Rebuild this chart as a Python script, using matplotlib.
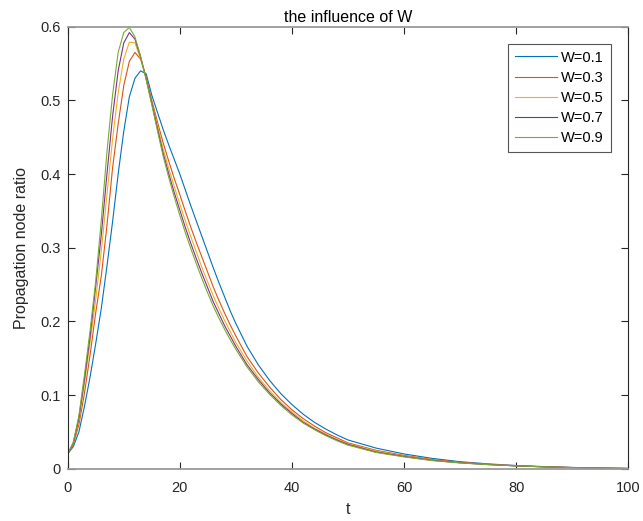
import matplotlib
matplotlib.use("Agg")
import matplotlib.pyplot as plt

plt.rcParams['font.family'] = ['Liberation Sans', 'DejaVu Sans']

t = [0, 1, 2, 3, 4, 5, 6, 7, 8, 9, 10, 11, 12, 13, 14, 15, 16, 17, 18, 19, 20,
     21, 22, 23, 24, 25, 26, 27, 28, 29, 30,
     32, 34, 36, 38, 40, 42, 44, 46, 48, 50,
     55, 60, 65, 70, 75, 80, 85, 90, 95, 100]

w01 = [0.020, 0.030, 0.050, 0.085, 0.125, 0.170, 0.218, 0.275, 0.335, 0.400, 0.458,
       0.505, 0.530, 0.540, 0.536, 0.507, 0.484, 0.461, 0.440, 0.420, 0.400,
       0.378, 0.356, 0.335, 0.314, 0.293, 0.272, 0.252, 0.233, 0.214, 0.197,
       0.166, 0.141, 0.120, 0.102, 0.087, 0.074, 0.063, 0.054, 0.046, 0.039,
       0.028, 0.020, 0.014, 0.0095, 0.0065, 0.0043, 0.0028, 0.0017, 0.0009, 0.0003]

w03 = [0.020, 0.033, 0.060, 0.103, 0.155, 0.212, 0.262, 0.330, 0.408, 0.468, 0.520,
       0.553, 0.565, 0.556, 0.532, 0.500, 0.471, 0.443, 0.418, 0.394, 0.372,
       0.349, 0.327, 0.306, 0.286, 0.266, 0.246, 0.228, 0.211, 0.195, 0.180,
       0.152, 0.130, 0.111, 0.094, 0.080, 0.068, 0.058, 0.049, 0.042, 0.035,
       0.025, 0.018, 0.0125, 0.0087, 0.0060, 0.0040, 0.0026, 0.0016, 0.0008, 0.0003]

w05 = [0.020, 0.034, 0.066, 0.116, 0.172, 0.230, 0.296, 0.372, 0.447, 0.510, 0.556,
       0.579, 0.578, 0.556, 0.530, 0.497, 0.466, 0.435, 0.408, 0.383, 0.359,
       0.336, 0.314, 0.293, 0.272, 0.253, 0.234, 0.217, 0.201, 0.186, 0.171,
       0.146, 0.124, 0.106, 0.090, 0.077, 0.065, 0.055, 0.047, 0.040, 0.034,
       0.024, 0.017, 0.0118, 0.0083, 0.0058, 0.0039, 0.0025, 0.0015, 0.0008, 0.0003]

w07 = [0.020, 0.035, 0.069, 0.122, 0.180, 0.248, 0.318, 0.400, 0.478, 0.540, 0.578,
       0.592, 0.583, 0.559, 0.529, 0.496, 0.462, 0.429, 0.401, 0.375, 0.351,
       0.327, 0.305, 0.284, 0.264, 0.245, 0.226, 0.210, 0.194, 0.180, 0.166,
       0.141, 0.121, 0.103, 0.088, 0.075, 0.063, 0.054, 0.046, 0.039, 0.033,
       0.0227, 0.0165, 0.0114, 0.0080, 0.0056, 0.0038, 0.0025, 0.0015, 0.0008, 0.0003]

w09 = [0.020, 0.036, 0.072, 0.128, 0.188, 0.255, 0.338, 0.430, 0.507, 0.565, 0.592,
       0.599, 0.586, 0.560, 0.528, 0.494, 0.459, 0.425, 0.396, 0.369, 0.344,
       0.320, 0.298, 0.277, 0.257, 0.238, 0.220, 0.204, 0.189, 0.175, 0.162,
       0.138, 0.118, 0.101, 0.086, 0.073, 0.062, 0.053, 0.045, 0.038, 0.032,
       0.022, 0.016, 0.011, 0.0078, 0.0055, 0.0038, 0.0025, 0.0015, 0.0008, 0.0003]

labels = ['W=0.1', 'W=0.3', 'W=0.5', 'W=0.7', 'W=0.9']
series = [w01, w03, w05, w07, w09]
colors = ['#0072BD', '#D95319', '#EDB120', '#7E2F8E', '#77AC30']

xticks = [0, 20, 40, 60, 80, 100]
yticks = [0, 0.1, 0.2, 0.3, 0.4, 0.5, 0.6]
ytick_labels = ['0', '0.1', '0.2', '0.3', '0.4', '0.5', '0.6']

fig = plt.figure(figsize=(6.43, 5.21), dpi=100)
ax = fig.add_axes([0.1053, 0.1004, 0.8718, 0.8484])

for y, lab, c in zip(series, labels, colors):
    ax.plot(t, y, color=c, linewidth=0.8, label=lab)

ax.set_xlim(0, 100)
ax.set_ylim(0, 0.6)
ax.set_xticks(xticks)
ax.set_xticklabels([str(v) for v in xticks])
ax.set_yticks(yticks)
ax.set_yticklabels(ytick_labels)

ax.tick_params(direction='in', length=5, width=0.8, color='#262626',
               top=True, right=True, labelsize=10.5, labelcolor='#262626')
ax.tick_params(axis='x', pad=9)
ax.tick_params(axis='y', pad=5)
for side in ['left', 'right']:
    ax.spines[side].set_color('#262626')
    ax.spines[side].set_linewidth(0.8)
for side in ['top', 'bottom']:
    ax.spines[side].set_color('#9a9a9a')
    ax.spines[side].set_linewidth(1.3)

ax.set_xlabel('t', fontsize=11.5, color='#262626', labelpad=5)
ax.set_ylabel('Propagation node ratio', fontsize=11.5, color='#262626', labelpad=8)
ax.set_title('the influence of W', fontsize=11.5, color='#000000', pad=3.5)

leg = ax.legend(loc='upper right', bbox_to_anchor=(0.9686, 0.9609), fontsize=10.5,
                frameon=True, fancybox=False, framealpha=1, edgecolor='#555555',
                handlelength=2.9, handletextpad=0.3, labelspacing=0.42,
                borderpad=0.45, borderaxespad=0)
leg.get_frame().set_linewidth(0.8)

fig.savefig('out.png', dpi=100)
